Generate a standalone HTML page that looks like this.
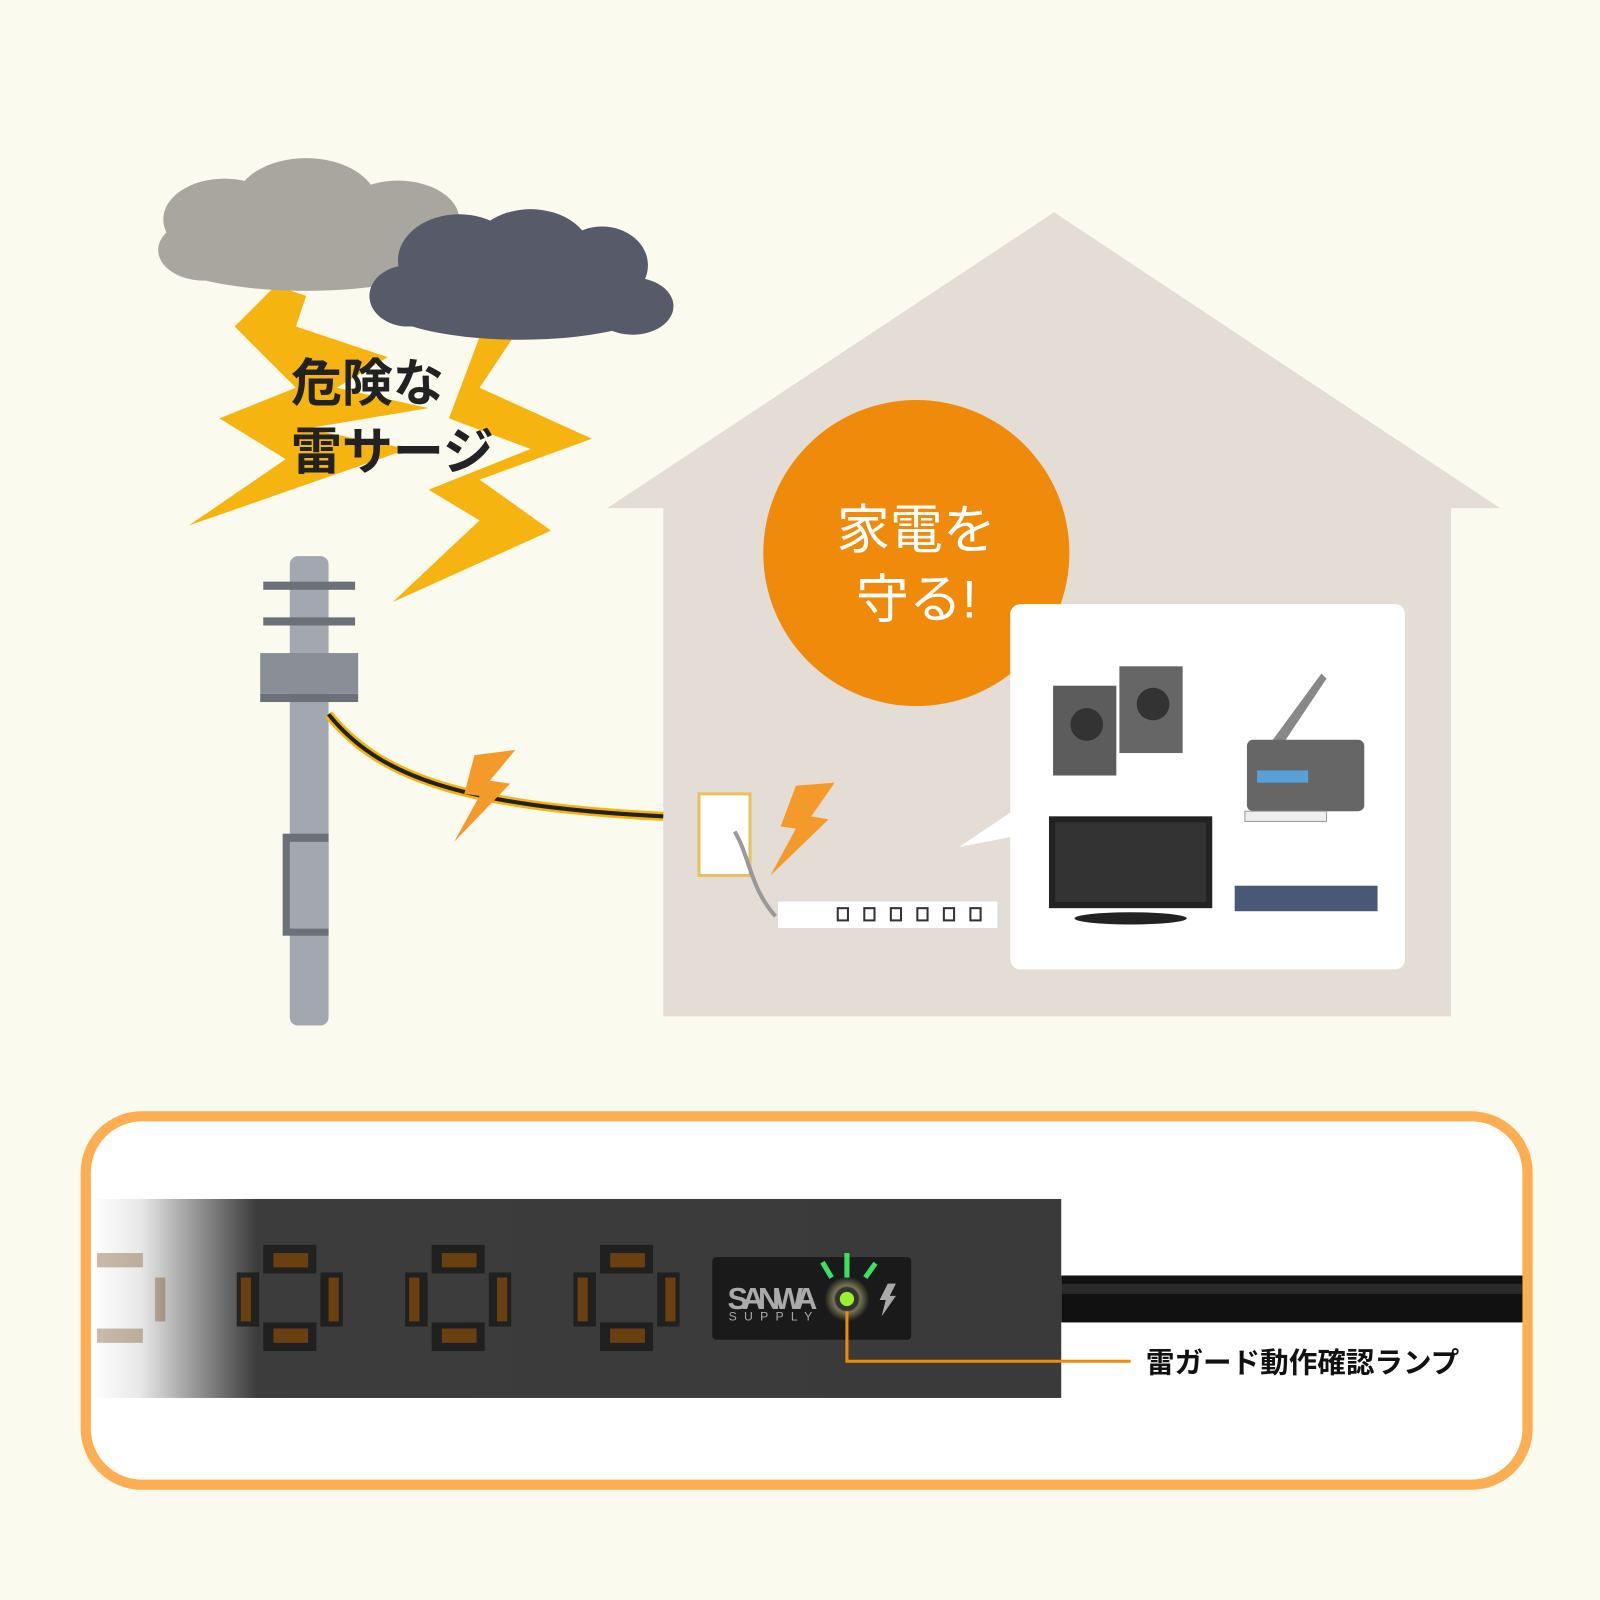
<!DOCTYPE html>
<html><head><meta charset="utf-8"><style>
html,body{margin:0;padding:0;background:#fbfaee;}
svg{display:block}
text{font-family:"Liberation Sans","Noto Sans CJK JP",sans-serif;}
</style></head><body>
<svg width="1600" height="1600" viewBox="0 0 1568 1568" xmlns="http://www.w3.org/2000/svg">
<defs>
<linearGradient id="fade" x1="0" x2="1" y1="0" y2="0">
<stop offset="0" stop-color="#ffffff"/><stop offset="0.05" stop-color="#e8e8e8"/><stop offset="0.17" stop-color="#3c3c3c"/><stop offset="1" stop-color="#3a3a3a"/>
</linearGradient>
<radialGradient id="glow"><stop offset="0" stop-color="#fff7a0"/><stop offset="1" stop-color="#fff7a0" stop-opacity="0"/></radialGradient>
</defs>
<rect width="1568" height="1568" fill="#fbfaee"/>
<!-- house -->
<polygon points="1033,208 1470,498 1422,498 1422,996 650,996 650,498 595,498" fill="#e4ddd5"/>
<!-- lightning bolts -->
<polygon points="270,280 300,290 290,320 380,350 330,380 420,400 300,420 400,440 185,515 280,450 215,410 290,380 230,320" fill="#f5b40f"/>
<polygon points="470,330 510,320 470,380 580,430 470,470 540,520 385,590 470,510 420,480 520,440 440,410" fill="#f5b40f"/>
<!-- clouds -->
<g fill="#a9a69f">
<ellipse cx="220" cy="215" rx="60" ry="40"/><ellipse cx="300" cy="200" rx="70" ry="45"/><ellipse cx="390" cy="215" rx="60" ry="38"/><ellipse cx="300" cy="250" rx="140" ry="35"/><ellipse cx="200" cy="245" rx="45" ry="30"/>
</g>
<g fill="#575a68">
<ellipse cx="450" cy="255" rx="60" ry="45"/><ellipse cx="520" cy="250" rx="60" ry="45"/><ellipse cx="590" cy="260" rx="45" ry="38"/><ellipse cx="510" cy="295" rx="140" ry="38"/><ellipse cx="620" cy="300" rx="40" ry="28"/><ellipse cx="400" cy="290" rx="38" ry="30"/>
</g>
<text x="285" y="393" font-size="50" font-weight="bold" fill="#222">危険な</text>
<text x="285" y="460" font-size="50" font-weight="bold" fill="#222">雷サージ</text>
<!-- pole -->
<rect x="284" y="545" width="38" height="460" rx="8" fill="#a3a8b0"/>
<rect x="258" y="570" width="90" height="8" fill="#6c7078"/>
<rect x="258" y="605" width="90" height="8" fill="#6c7078"/>
<rect x="255" y="640" width="96" height="40" fill="#8a8f97"/>
<rect x="255" y="680" width="96" height="8" fill="#6c7078"/>
<rect x="277" y="817" width="45" height="100" fill="#6c7078"/>
<rect x="284" y="825" width="38" height="85" fill="#a3a8b0"/>
<!-- cable -->
<path d="M322,700 C370,760 450,790 650,800" stroke="#f5b40f" stroke-width="9" fill="none"/>
<path d="M322,700 C370,760 450,790 650,800" stroke="#222" stroke-width="4" fill="none"/>
<polygon points="465,740 505,735 480,765 500,768 445,825 470,780 455,778" fill="#f39a2a"/>
<polygon points="780,770 818,767 795,800 812,803 755,858 780,812 765,810" fill="#f39a2a"/>
<!-- outlet & strip -->
<rect x="685" y="778" width="50" height="80" fill="#fff" stroke="#e8c060" stroke-width="3"/>
<path d="M720,815 C735,840 735,870 760,898" stroke="#999" stroke-width="4" fill="none"/>
<rect x="762" y="883" width="216" height="27" fill="#fff" stroke="#ddd"/>
<g fill="none" stroke="#333" stroke-width="2">
<rect x="821" y="890" width="10" height="12"/><rect x="847" y="890" width="10" height="12"/><rect x="873" y="890" width="10" height="12"/><rect x="899" y="890" width="10" height="12"/><rect x="925" y="890" width="10" height="12"/><rect x="951" y="890" width="10" height="12"/>
</g>
<!-- orange circle -->
<circle cx="898" cy="542" r="150" fill="#f08a0b"/>
<text x="898" y="537" font-size="52" fill="#fff" text-anchor="middle">家電を</text>
<text x="898" y="605" font-size="52" fill="#fff" text-anchor="middle">守る!</text>
<!-- white box -->
<rect x="990" y="592" width="387" height="358" rx="10" fill="#fff"/>
<polygon points="992,795 940,830 992,820" fill="#fff"/>
<!-- appliances -->
<rect x="1032" y="672" width="62" height="88" fill="#5c5c5c"/><circle cx="1065" cy="710" r="16" fill="#333"/>
<rect x="1097" y="653" width="62" height="85" fill="#666"/><circle cx="1130" cy="690" r="16" fill="#333"/>
<rect x="1028" y="800" width="160" height="90" fill="#222"/><rect x="1034" y="806" width="148" height="78" fill="#333"/>
<ellipse cx="1108" cy="900" rx="55" ry="6" fill="#222"/>
<polygon points="1240,735 1295,660 1300,665 1250,740" fill="#888"/>
<rect x="1222" y="725" width="115" height="70" rx="6" fill="#666"/><rect x="1232" y="755" width="50" height="12" fill="#5aa0d8"/>
<rect x="1220" y="795" width="80" height="10" fill="#eee" stroke="#999"/>
<rect x="1210" y="868" width="140" height="25" fill="#4a5878"/>
<!-- bottom box -->
<rect x="84" y="1094" width="1413" height="361" rx="55" fill="#fff" stroke="#fdae52" stroke-width="10"/>
<rect x="1040" y="1250" width="452" height="46" fill="#111"/>
<rect x="1040" y="1258" width="452" height="10" fill="#2a2a2a"/>
<rect x="90" y="1175" width="950" height="195" fill="url(#fade)"/>
<g fill="#1e1e1e" opacity="0.9">
<g id="o"><rect x="258" y="1220" width="52" height="28"/><rect x="258" y="1296" width="52" height="28"/><rect x="232" y="1247" width="22" height="53"/><rect x="314" y="1247" width="22" height="53"/></g>
<use href="#o" x="165"/><use href="#o" x="330"/>
</g>
<g fill="#6b4010"><rect x="268" y="1228" width="34" height="14"/><rect x="268" y="1302" width="34" height="14"/><rect x="236" y="1252" width="10" height="43"/><rect x="322" y="1252" width="10" height="43"/>
<rect x="433" y="1228" width="34" height="14"/><rect x="433" y="1302" width="34" height="14"/><rect x="401" y="1252" width="10" height="43"/><rect x="487" y="1252" width="10" height="43"/>
<rect x="598" y="1228" width="34" height="14"/><rect x="598" y="1302" width="34" height="14"/><rect x="566" y="1252" width="10" height="43"/><rect x="652" y="1252" width="10" height="43"/></g>
<g opacity="0.35" fill="#6b4010"><rect x="95" y="1228" width="45" height="14"/><rect x="95" y="1302" width="45" height="14"/><rect x="152" y="1252" width="10" height="43"/></g>
<rect x="698" y="1232" width="195" height="81" rx="4" fill="#1a1a1a"/>
<text x="713" y="1283" font-size="30" font-weight="bold" fill="#aaa" textLength="88">SANWA</text>
<text x="714" y="1294" font-size="12" fill="#aaa" textLength="88" letter-spacing="6">SUPPLY</text>
<circle cx="830" cy="1273" r="22" fill="url(#glow)"/>
<circle cx="830" cy="1273" r="12" fill="#333" stroke="#555"/>
<circle cx="830" cy="1273" r="7" fill="#9bf030"/>
<polygon points="870,1258 878,1258 872,1270 878,1270 864,1290 868,1274 862,1274" fill="#aaa"/>
<g stroke="#3ee060" stroke-width="5"><line x1="830" y1="1228" x2="830" y2="1252"/><line x1="806" y1="1237" x2="815" y2="1252"/><line x1="858" y1="1238" x2="848" y2="1252"/></g>
<polyline points="830,1285 830,1334 1108,1334" fill="none" stroke="#f08a0b" stroke-width="3"/>
<text x="1123" y="1345" font-size="28" font-weight="bold" fill="#111">雷ガード動作確認ランプ</text>
</svg>
</body></html>
